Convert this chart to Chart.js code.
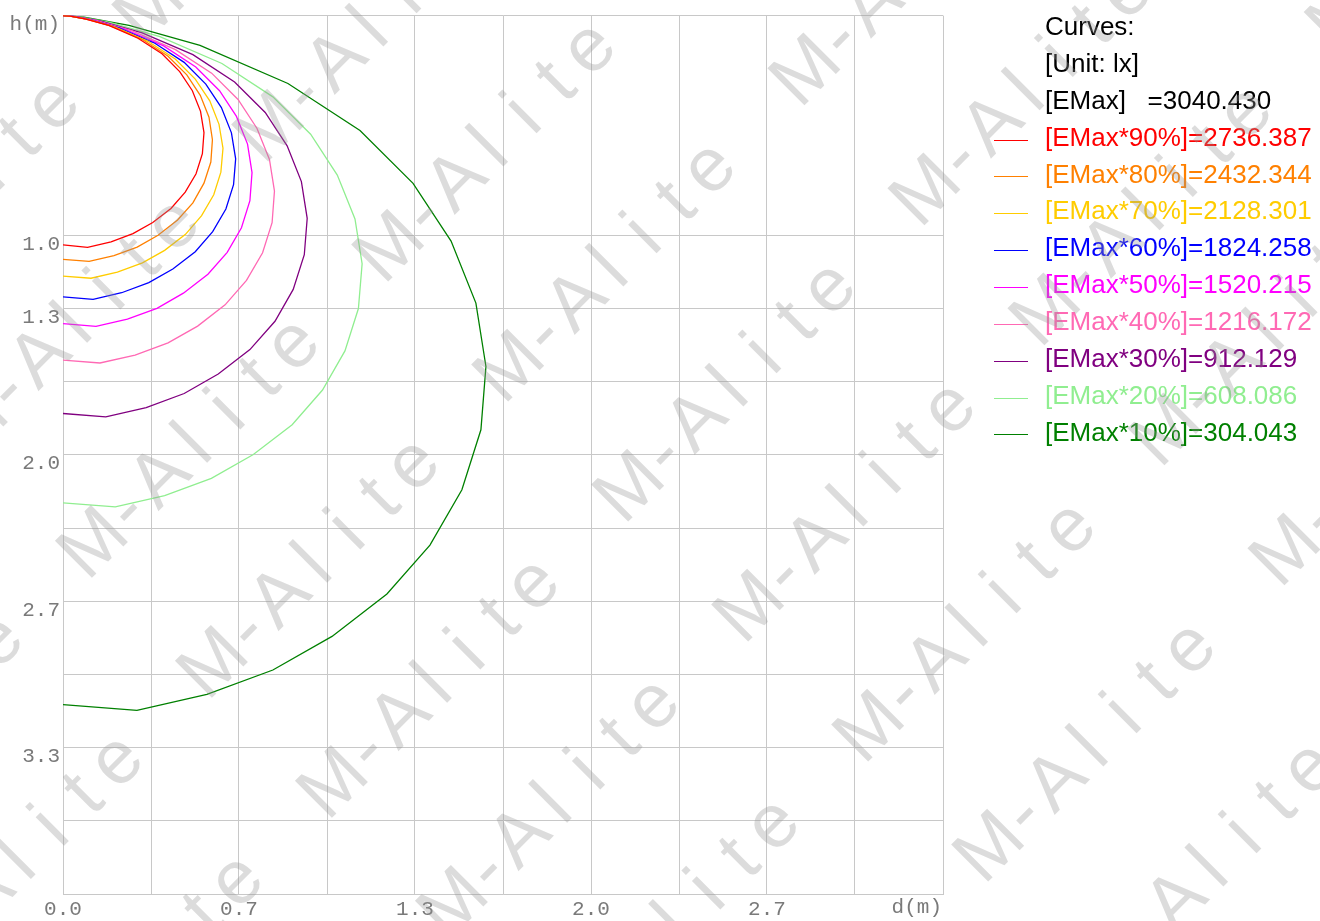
<!DOCTYPE html>
<html lang="en">
<head>
<meta charset="UTF-8">
<title>Isolux curves</title>
<style>
  html, body { margin: 0; padding: 0; background: #fff; }
  #wrap { width: 1320px; height: 921px; }
</style>
</head>
<body>
<div id="wrap"><canvas id="isoChart" width="1320" height="921"></canvas></div>
<script src="https://cdn.jsdelivr.net/npm/chart.js"></script>
<script>
// axis ticks (m)
const xTickValues = [0, 1/3, 2/3, 1, 4/3, 5/3, 2, 7/3, 8/3, 3, 10/3];
const xTickLabels = ['0.0', '', '0.7', '', '1.3', '', '2.0', '', '2.7', '', ''];
const yTickValues = [0, 1, 4/3, 5/3, 2, 7/3, 8/3, 3, 10/3, 11/3, 4];
const yTickLabels = ['h(m)', '1.0', '1.3', '', '2.0', '', '2.7', '', '3.3', '', ''];
const xAxisName = 'd(m)';

const legendHeader = ['Curves:', '[Unit: lx]', '[EMax]   =3040.430'];
const curveLabels = [
  '[EMax*90%]=2736.387', '[EMax*80%]=2432.344', '[EMax*70%]=2128.301',
  '[EMax*60%]=1824.258', '[EMax*50%]=1520.215', '[EMax*40%]=1216.172',
  '[EMax*30%]=912.129', '[EMax*20%]=608.086', '[EMax*10%]=304.043'
];
const curveColors = ['#ff0000', '#ff8000', '#ffcc00', '#0000ff', '#ff00ff', '#ff69b4', '#800080', '#90ee90', '#008000'];

// curve points, d = distance (m), h = depth below the fitting (m)
const d90 = [0, 0.093, 0.182, 0.265, 0.340, 0.409, 0.463, 0.504, 0.528, 0.534, 0.521, 0.490, 0.442, 0.375, 0.284, 0.173, 0.083, 0.027, 0];
const h90 = [1.044, 1.055, 1.030, 0.993, 0.942, 0.878, 0.804, 0.720, 0.629, 0.533, 0.436, 0.342, 0.255, 0.174, 0.103, 0.045, 0.015, 0.002, 0];
const d80 = [0, 0.099, 0.193, 0.281, 0.360, 0.434, 0.492, 0.534, 0.560, 0.566, 0.553, 0.520, 0.469, 0.398, 0.301, 0.184, 0.088, 0.028, 0];
const h80 = [1.110, 1.119, 1.093, 1.054, 1.000, 0.931, 0.853, 0.763, 0.667, 0.565, 0.463, 0.363, 0.270, 0.185, 0.109, 0.048, 0.016, 0.002, 0];
const d70 = [0, 0.106, 0.206, 0.301, 0.385, 0.464, 0.525, 0.571, 0.598, 0.606, 0.591, 0.556, 0.501, 0.425, 0.322, 0.196, 0.095, 0.030, 0];
const h70 = [1.186, 1.196, 1.168, 1.126, 1.069, 0.996, 0.911, 0.816, 0.713, 0.604, 0.495, 0.388, 0.289, 0.198, 0.117, 0.051, 0.017, 0.003, 0];
const d60 = [0, 0.114, 0.222, 0.325, 0.416, 0.501, 0.567, 0.617, 0.646, 0.654, 0.638, 0.600, 0.541, 0.459, 0.348, 0.212, 0.102, 0.033, 0];
const h60 = [1.281, 1.292, 1.262, 1.216, 1.154, 1.075, 0.984, 0.881, 0.770, 0.652, 0.534, 0.419, 0.312, 0.213, 0.126, 0.056, 0.018, 0.003, 0];
const d50 = [0, 0.125, 0.244, 0.356, 0.456, 0.549, 0.622, 0.676, 0.708, 0.716, 0.699, 0.657, 0.593, 0.503, 0.381, 0.232, 0.112, 0.036, 0];
const h50 = [1.403, 1.415, 1.382, 1.333, 1.264, 1.178, 1.078, 0.966, 0.843, 0.715, 0.585, 0.459, 0.342, 0.234, 0.138, 0.061, 0.020, 0.003, 0];
const d40 = [0, 0.140, 0.273, 0.398, 0.510, 0.614, 0.695, 0.756, 0.792, 0.801, 0.782, 0.735, 0.663, 0.563, 0.426, 0.260, 0.125, 0.040, 0];
const h40 = [1.569, 1.582, 1.546, 1.490, 1.414, 1.317, 1.206, 1.080, 0.943, 0.799, 0.655, 0.514, 0.382, 0.262, 0.155, 0.068, 0.022, 0.004, 0];
const d30 = [0, 0.162, 0.315, 0.459, 0.588, 0.708, 0.803, 0.872, 0.914, 0.925, 0.903, 0.849, 0.766, 0.650, 0.492, 0.300, 0.144, 0.046, 0];
const h30 = [1.812, 1.827, 1.785, 1.721, 1.632, 1.521, 1.392, 1.247, 1.089, 0.923, 0.756, 0.593, 0.441, 0.302, 0.178, 0.079, 0.025, 0.004, 0];
const d20 = [0, 0.198, 0.385, 0.562, 0.721, 0.868, 0.983, 1.068, 1.119, 1.133, 1.106, 1.039, 0.938, 0.795, 0.602, 0.367, 0.177, 0.057, 0];
const h20 = [2.219, 2.237, 2.186, 2.107, 1.999, 1.863, 1.705, 1.527, 1.334, 1.130, 0.926, 0.726, 0.540, 0.370, 0.218, 0.096, 0.031, 0.005, 0];
const d10 = [0, 0.280, 0.545, 0.795, 1.019, 1.227, 1.390, 1.511, 1.583, 1.602, 1.564, 1.470, 1.326, 1.125, 0.852, 0.519, 0.250, 0.080, 0];
const h10 = [3.138, 3.164, 3.091, 2.980, 2.827, 2.634, 2.411, 2.159, 1.886, 1.598, 1.309, 1.027, 0.764, 0.523, 0.309, 0.136, 0.044, 0.007, 0];

const curveD = [d90, d80, d70, d60, d50, d40, d30, d20, d10];
const curveH = [h90, h80, h70, h60, h50, h40, h30, h20, h10];

const gridColor = '#c8c8c8';
const tickColor = '#7a7a7a';
const tickFont = { family: '"Liberation Mono", "DejaVu Sans Mono", monospace', size: 21 };

const datasets = curveLabels.map((label, i) => ({
  label: label,
  data: curveD[i].map((d, k) => ({ x: d, y: curveH[i][k] })),
  borderColor: curveColors[i],
  backgroundColor: curveColors[i],
  showLine: true,
  fill: false,
  pointRadius: 0,
  borderWidth: 1.3,
  tension: 0
}));

// header lines + one line per curve, right of the plot
const legendBlock = {
  id: 'legendBlock',
  afterDraw(chart) {
    const ctx = chart.ctx;
    ctx.save();
    ctx.font = '26px "Liberation Sans", Arial, sans-serif';
    ctx.textBaseline = 'middle';
    ctx.textAlign = 'left';
    const x0 = 1045, y0 = 28, step = 36.85;
    legendHeader.forEach((t, i) => {
      ctx.fillStyle = '#000';
      ctx.fillText(t, x0, y0 + i * step);
    });
    chart.data.datasets.forEach((ds, i) => {
      const y = y0 + (i + legendHeader.length) * step;
      ctx.strokeStyle = ds.borderColor;
      ctx.lineWidth = 1;
      ctx.beginPath();
      ctx.moveTo(994, Math.round(y) + 1.5);
      ctx.lineTo(1028, Math.round(y) + 1.5);
      ctx.stroke();
      ctx.fillStyle = ds.borderColor;
      ctx.fillText(ds.label, x0, y);
    });
    // axis name at the end of the x axis
    const area = chart.chartArea;
    ctx.font = '21px ' + tickFont.family;
    ctx.fillStyle = tickColor;
    ctx.textAlign = 'right';
    ctx.textBaseline = 'top';
    ctx.fillText(xAxisName, area.right - 1, area.bottom + 3);
    ctx.restore();
  }
};

// diagonal "M-Alite" stamp over the whole picture
const watermark = {
  id: 'watermark',
  afterDraw(chart) {
    const ctx = chart.ctx;
    const text = 'M-Alite';
    const adv = 33.2;        // per letter, along x and -y
    const period = 592.5;    // x - y between repeats on one line
    const lineGap = 240;     // x + y between lines
    ctx.save();
    ctx.fillStyle = 'rgba(150,150,150,0.33)';
    ctx.font = '76px "Liberation Sans", Arial, sans-serif';
    ctx.textAlign = 'center';
    ctx.textBaseline = 'middle';
    for (let j = -5; j <= 7; j++) {
      for (let i = -3; i <= 3; i++) {
        const s = 880 + lineGap * j;
        const t = -450 + period * i;
        const mx = (s + t) / 2, my = (s - t) / 2;
        for (let n = 0; n < text.length; n++) {
          ctx.save();
          ctx.translate(mx + n * adv, my - n * adv);
          ctx.rotate(-Math.PI / 4);
          ctx.fillText(text[n], 0, 0);
          ctx.restore();
        }
      }
    }
    ctx.restore();
  }
};

new Chart(document.getElementById('isoChart'), {
  type: 'scatter',
  data: { datasets: datasets },
  options: {
    responsive: false,
    animation: false,
    layout: { padding: { top: 14, right: 377, left: 0, bottom: 0 } },
    plugins: {
      legend: { display: false },
      tooltip: { enabled: false }
    },
    scales: {
      x: {
        type: 'linear',
        min: 0,
        max: 10 / 3,
        afterBuildTicks: s => { s.ticks = xTickValues.map(v => ({ value: v })); },
        afterFit: s => { s.height = 27; },
        grid: { color: gridColor, drawTicks: false },
        border: { color: gridColor },
        ticks: {
          autoSkip: false,
          maxRotation: 0,
          padding: 3,
          color: tickColor,
          font: tickFont,
          callback: (v, i) => xTickLabels[i]
        }
      },
      y: {
        type: 'linear',
        reverse: true,
        min: 0,
        max: 4,
        afterBuildTicks: s => { s.ticks = yTickValues.map(v => ({ value: v })); },
        afterFit: s => { s.width = 63; },
        grid: { color: gridColor, drawTicks: false },
        border: { color: gridColor },
        ticks: {
          autoSkip: false,
          padding: 3,
          labelOffset: 9,
          color: tickColor,
          font: tickFont,
          callback: (v, i) => yTickLabels[i]
        }
      }
    }
  },
  plugins: [legendBlock, watermark]
});
</script>
</body>
</html>
